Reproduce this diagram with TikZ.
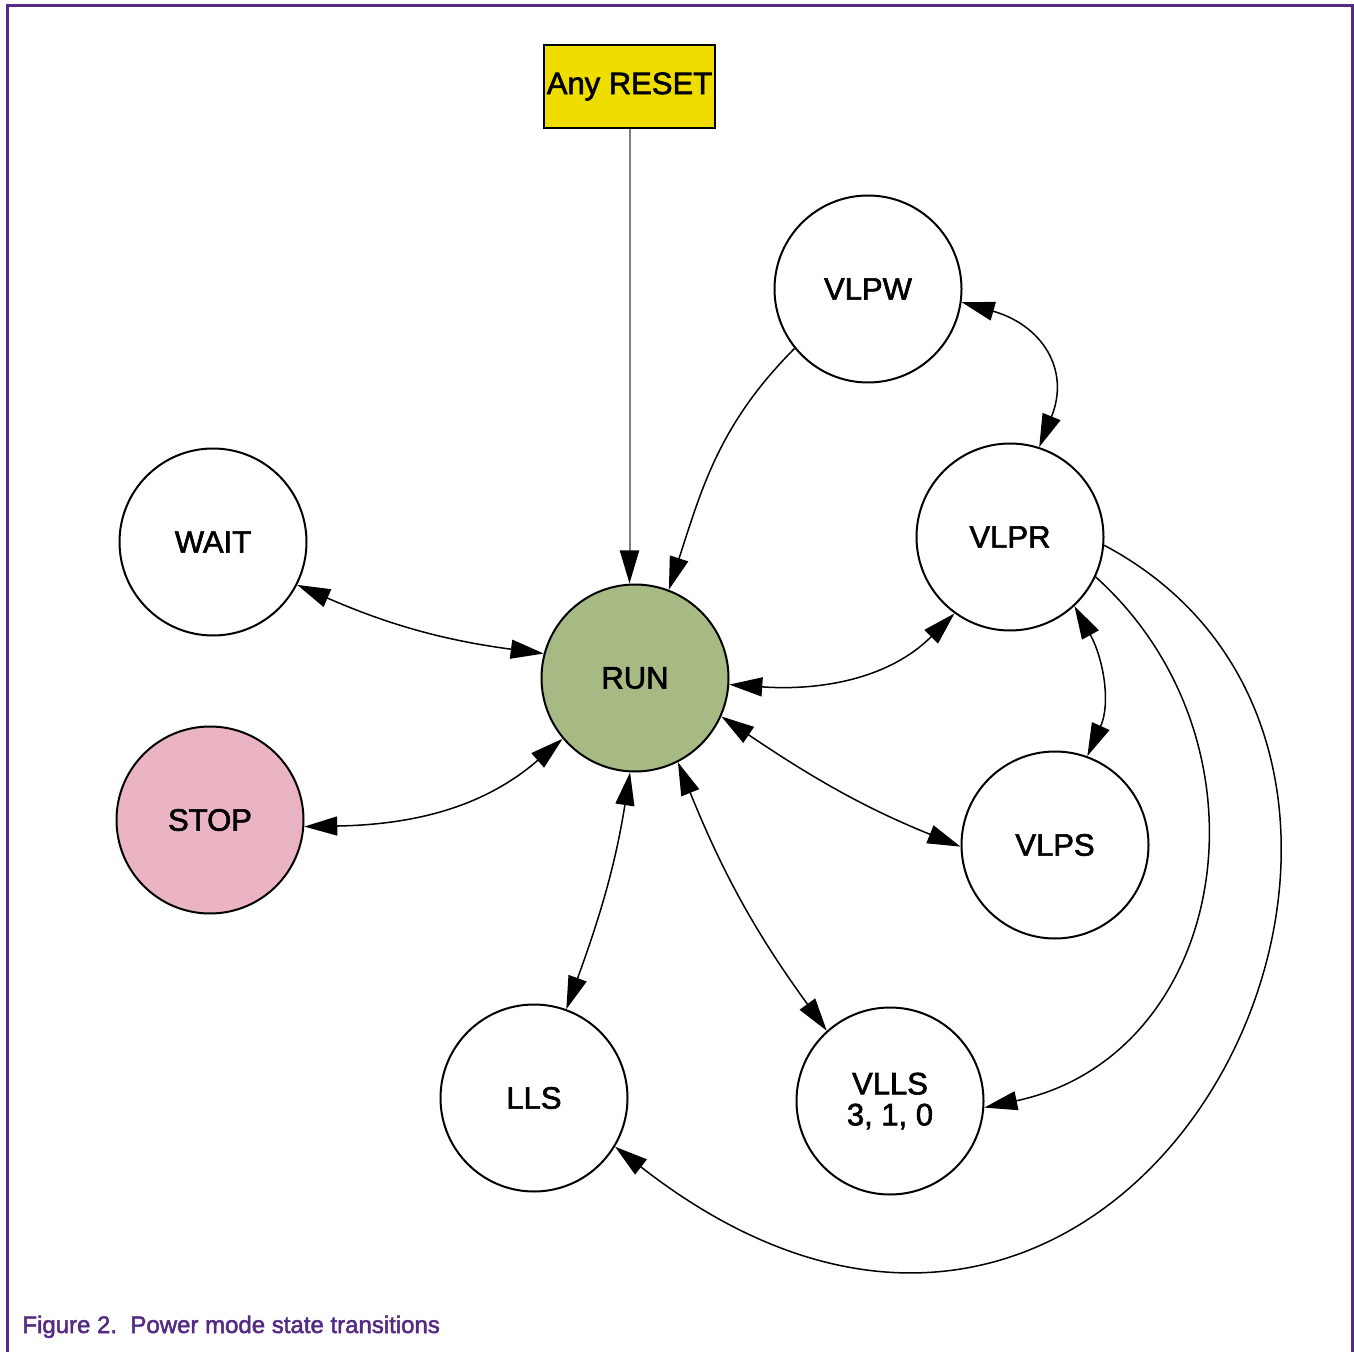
\documentclass[tikz,border=0pt]{standalone}
\usepackage{fontspec}
\setmainfont{Liberation Sans}
\newfontfamily\statefont[FakeBold=2]{Liberation Sans}
\usetikzlibrary{arrows.meta}
\definecolor{framepurple}{RGB}{84,42,130}
\definecolor{resetyellow}{RGB}{240,221,0}
\definecolor{rungreen}{RGB}{167,186,131}
\definecolor{stoppink}{RGB}{235,180,194}
\begin{document}
\begin{tikzpicture}[x=0.5pt, y=0.5pt,
  >={Triangle[length=16.5pt, width=9.5pt]},
  state/.style={circle, draw, line width=1pt, minimum size=93.5pt, inner sep=0pt,
    font=\statefont\fontsize{15.5}{15.5}\selectfont, align=center},
  link/.style={line width=0.75pt},
  resetline/.style={draw=gray, line width=1pt, -{Triangle[length=16.5pt, width=9.5pt, color=black]}}]
\useasboundingbox (0,0) rectangle (1354,-1352);
\draw[framepurple, line width=1.5pt] (7,-1352) -- (7,-6) -- (1352,-6) -- (1352,-1352);
% states
\node[draw, line width=0.75pt, fill=resetyellow, minimum width=85.5pt, minimum height=41.5pt,
  inner sep=0pt, font=\statefont\fontsize{15.5}{15.5}\selectfont] (reset) at (629.5,-86.5) {Any RESET};
\node[state] (vlpw) at (868,-289) {VLPW};
\node[state] (wait) at (213,-542) {WAIT};
\node[state] (vlpr) at (1010,-537) {VLPR};
\node[state, fill=rungreen] (run) at (635,-678) {RUN};
\node[state, fill=stoppink] (stop) at (210,-820) {STOP};
\node[state] (vlps) at (1055,-845) {VLPS};
\node[state] (lls) at (534,-1098) {LLS};
\node[state] (vlls) at (890,-1101) {VLLS\\3, 1, 0};
% transitions
\draw[resetline] (reset) -- (reset |- run.north);
\draw[link, ->] (vlpw.219) to[out=225, in=72] (run.69);
\draw[link, <->] (vlpw.-8) to[out=-16, in=68, looseness=1.3] (vlpr.72);
\draw[link, <->] (wait.-27) to[bend right=8] (run.165);
\draw[link, <->] (stop.-4) to[out=1, in=221] (run.220);
\draw[link, <->] (run.-4) to[out=-4, in=225] (vlpr.234);
\draw[link, <->] (run.-24) to[out=-34, in=158] (vlps.181);
\draw[link, <->] (vlpr.-47) to[out=-61, in=66] (vlps.70);
\draw[link, <->] (run.-93) to[out=-99, in=70] (lls.70);
\draw[link, <->] (run.-63) to[out=-68, in=126] (vlls.132);
\draw[link, ->] (vlpr.-25) to[out=-42, in=12, looseness=1.18] (vlls.-4);
\draw[link, ->] (vlpr.-5) .. controls +(-28:470) and +(-38:665) .. (lls.-31);
\node[anchor=base west, inner sep=0pt, text=framepurple, font=\statefont\fontsize{12}{14}\selectfont] (caption)
  at (22,-1333) {Figure 2.\ \ Power mode state transitions};
\end{tikzpicture}
\end{document}
